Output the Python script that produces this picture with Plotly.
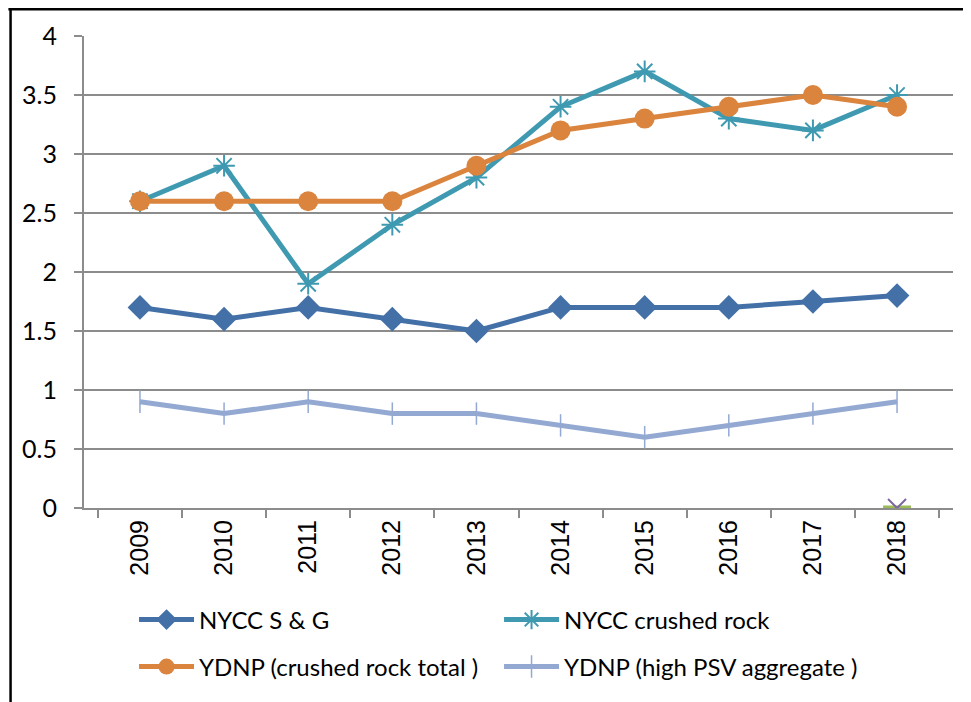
import plotly.graph_objects as go

years = ["2009", "2010", "2011", "2012", "2013", "2014", "2015", "2016", "2017", "2018"]
nycc_sg = [1.7, 1.6, 1.7, 1.6, 1.5, 1.7, 1.7, 1.7, 1.75, 1.8]
nycc_crushed = [2.6, 2.9, 1.9, 2.4, 2.8, 3.4, 3.7, 3.3, 3.2, 3.5]
ydnp_total = [2.6, 2.6, 2.6, 2.6, 2.9, 3.2, 3.3, 3.4, 3.5, 3.4]
ydnp_psv = [0.9, 0.8, 0.9, 0.8, 0.8, 0.7, 0.6, 0.7, 0.8, 0.9]
extra_years = ["2018"]
extra_a = [0]
extra_b = [0]

FONT = "Lato"
fig = go.Figure()
fig.add_trace(go.Scatter(x=years, y=nycc_sg, name="NYCC S & G", mode="lines+markers",
                         line=dict(color="#4470A8", width=5),
                         marker=dict(symbol="diamond", size=19, color="#4470A8"),
                         legend="legend"))
fig.add_trace(go.Scatter(x=years, y=nycc_crushed, name="NYCC crushed rock", mode="lines+markers",
                         line=dict(color="#3F9AB1", width=5),
                         marker=dict(symbol="asterisk-open", size=18, color="#3F9AB1",
                                     line=dict(color="#3F9AB1", width=2)),
                         legend="legend"))
fig.add_trace(go.Scatter(x=years, y=ydnp_total, name="YDNP (crushed rock total )", mode="lines+markers",
                         line=dict(color="#DB843D", width=5),
                         marker=dict(symbol="circle", size=20, color="#DB843D"),
                         legend="legend2"))
fig.add_trace(go.Scatter(x=years, y=ydnp_psv, name="YDNP (high PSV aggregate )", mode="lines+markers",
                         line=dict(color="#93A9D2", width=5),
                         marker=dict(symbol="line-ns-open", size=16, color="#93A9D2",
                                     line=dict(color="#93A9D2", width=1.5)),
                         legend="legend2"))
fig.add_trace(go.Scatter(x=extra_years, y=extra_a, mode="markers", showlegend=False,
                         marker=dict(symbol="line-ew-open", size=20, color="#9BBB59",
                                     line=dict(color="#9BBB59", width=5))))
fig.add_trace(go.Scatter(x=extra_years, y=extra_b, mode="markers", showlegend=False,
                         marker=dict(symbol="x-thin-open", size=18, color="#7E64A0",
                                     line=dict(color="#7E64A0", width=2))))

grid = "#8C8C8C"
fig.update_xaxes(type="category", categoryorder="array", categoryarray=years,
                 tickson="boundaries", ticks="outside", ticklen=8, tickcolor=grid, tickwidth=2,
                 showline=True, linecolor=grid, linewidth=2, showgrid=False, automargin=False,
                 tickangle=-90, tickfont=dict(family="Liberation Sans", size=25, color="black"))
fig.update_yaxes(range=[0, 4], dtick=0.5, tickformat="~g", ticks="outside", ticklen=8,
                 tickcolor=grid, tickwidth=2, showline=True, linecolor=grid, linewidth=2,
                 showgrid=True, gridcolor=grid, gridwidth=2, zeroline=False, automargin=False,
                 ticklabelstandoff=12,
                 tickfont=dict(family=FONT, size=25, color="black"))

legend_common = dict(orientation="h", entrywidth=295, entrywidthmode="pixels",
                     font=dict(family=FONT, size=24, color="black"), itemwidth=55,
                     xref="container", yref="container",
                     xanchor="left", yanchor="middle", bgcolor="rgba(0,0,0,0)")
fig.update_layout(
    width=971, height=702,
    margin=dict(l=76, r=26, t=28, b=202),
    plot_bgcolor="white", paper_bgcolor="white",
    legend=dict(x=0.1298, y=0.1282, **legend_common),
    legend2=dict(x=0.1298, y=0.0613, **legend_common),
    shapes=[
        dict(type="line", xref="paper", yref="paper", x0=-0.087, x1=1.1, y0=1.0567, y1=1.0567,
             line=dict(color="black", width=2.5)),
        dict(type="line", xref="paper", yref="paper", x0=-0.0845, x1=-0.0845, y0=1.0567, y1=-0.5,
             line=dict(color="black", width=2.5)),
    ],
)
fig.write_html("out.html")
